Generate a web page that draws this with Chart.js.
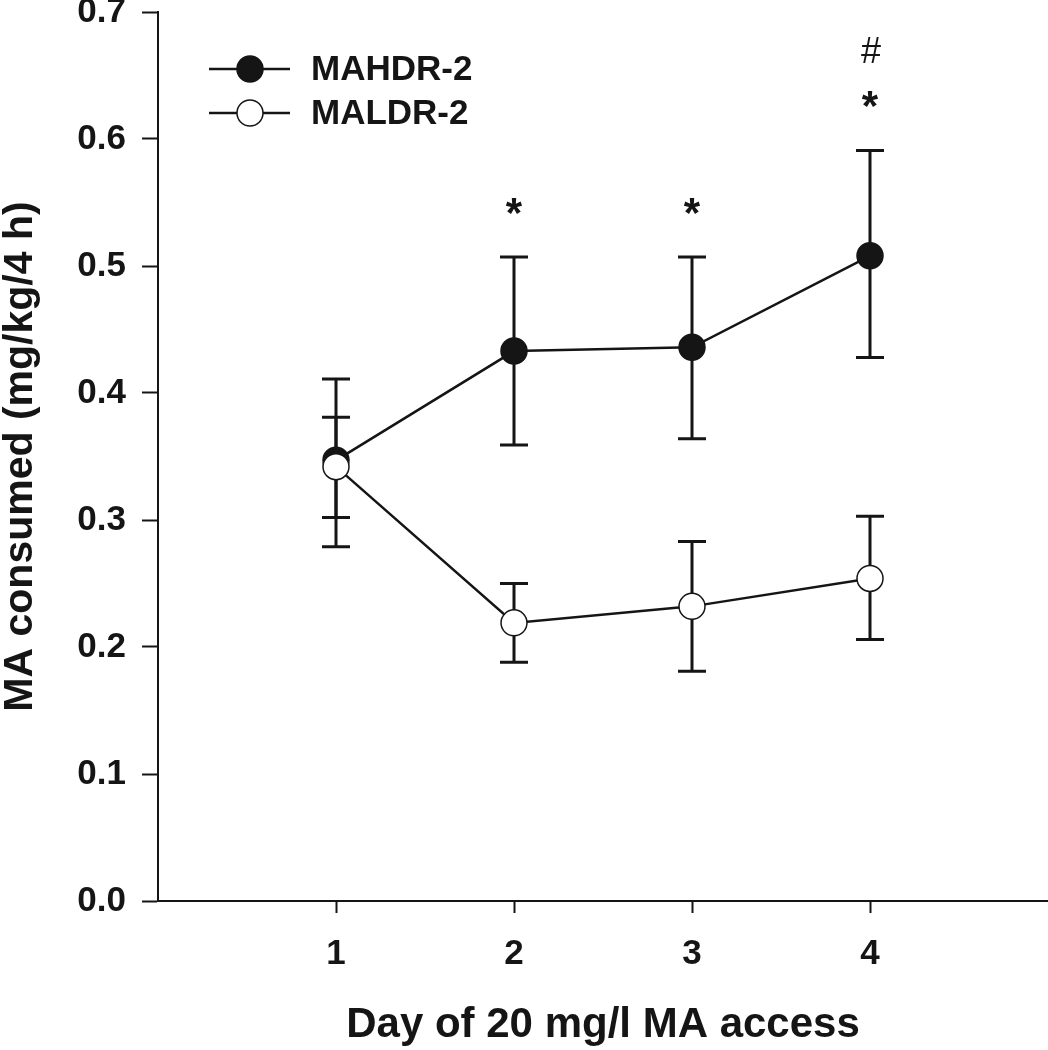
<!DOCTYPE html>
<html><head><meta charset="utf-8">
<script src="https://cdn.jsdelivr.net/npm/chart.js@4.4.0/dist/chart.umd.min.js"></script>
<style>html,body{margin:0;padding:0;background:#fff;overflow:hidden;} #wrap{width:1048px;height:1050px;} canvas{display:block;}</style>
</head><body><div id="wrap"><canvas id="c" width="1048" height="1050"></canvas></div>
<script>
// ---- data ----
const days = [1, 2, 3, 4];
const yTickValues = [0, 0.1, 0.2, 0.3, 0.4, 0.5, 0.6, 0.7];
const seriesNames = ['MAHDR-2', 'MALDR-2'];
const hdrMean  = [0.347, 0.433, 0.436, 0.508];
const hdrUpper = [0.411, 0.507, 0.507, 0.591];
const hdrLower = [0.279, 0.359, 0.364, 0.428];
const ldrMean  = [0.342, 0.219, 0.232, 0.254];
const ldrUpper = [0.381, 0.250, 0.283, 0.303];
const ldrLower = [0.302, 0.188, 0.181, 0.206];
const starMarks = ['', '*', '*', '*'];
const hashMarks = ['', '', '', '#'];

const FONT = '"Liberation Sans", Arial, Helvetica, sans-serif';
const INK = '#151515';

const errBars = [
  {upper: hdrUpper, lower: hdrLower},
  {upper: ldrUpper, lower: ldrLower}
];

const errorBarPlugin = {
  id: 'errorBars',
  beforeDatasetsDraw(chart) {
    const ctx = chart.ctx, xs = chart.scales.x, ys = chart.scales.y;
    ctx.save();
    ctx.strokeStyle = INK;
    ctx.lineWidth = 3;
    errBars.forEach(eb => {
      days.forEach((d, i) => {
        const x = xs.getPixelForValue(d);
        const yu = ys.getPixelForValue(eb.upper[i]);
        const yl = ys.getPixelForValue(eb.lower[i]);
        ctx.beginPath();
        ctx.moveTo(x, yu); ctx.lineTo(x, yl);
        ctx.moveTo(x - 14, yu); ctx.lineTo(x + 14, yu);
        ctx.moveTo(x - 14, yl); ctx.lineTo(x + 14, yl);
        ctx.stroke();
      });
    });
    ctx.restore();
  }
};

const marksPlugin = {
  id: 'marks',
  afterDatasetsDraw(chart) {
    const ctx = chart.ctx, xs = chart.scales.x, ys = chart.scales.y;
    ctx.save();
    ctx.fillStyle = INK;
    ctx.textAlign = 'center';
    ctx.textBaseline = 'alphabetic';
    days.forEach((d, i) => {
      const x = xs.getPixelForValue(d);
      const yu = ys.getPixelForValue(hdrUpper[i]);
      if (starMarks[i]) {
        ctx.font = 'bold 42px ' + FONT;
        ctx.fillText(starMarks[i], x, yu - 54 + 24);
      }
      if (hashMarks[i]) {
        ctx.font = '36px ' + FONT;
        ctx.fillText(hashMarks[i], x + 1, yu - 100 + 13);
      }
    });
    ctx.restore();
  }
};

const legendPlugin = {
  id: 'customLegend',
  afterDraw(chart) {
    const ctx = chart.ctx;
    const fills = [INK, '#ffffff'];
    ctx.save();
    seriesNames.forEach((name, k) => {
      const y = 69 + k * 44;
      ctx.strokeStyle = INK;
      ctx.lineWidth = 2.5;
      ctx.beginPath(); ctx.moveTo(209, y); ctx.lineTo(290, y); ctx.stroke();
      ctx.beginPath(); ctx.arc(250, y, 13, 0, Math.PI * 2);
      ctx.fillStyle = fills[k]; ctx.fill();
      ctx.lineWidth = 1.5; ctx.stroke();
      ctx.fillStyle = INK;
      ctx.font = 'bold 35px ' + FONT;
      ctx.textAlign = 'left';
      ctx.textBaseline = 'middle';
      ctx.fillText(name, 311, y + 1);
    });
    ctx.restore();
  }
};

const toPts = arr => days.map((d, i) => ({x: d, y: arr[i]}));

new Chart(document.getElementById('c'), {
  type: 'line',
  data: {
    datasets: [
      {
        label: seriesNames[0], data: toPts(hdrMean), order: 1,
        borderColor: INK, borderWidth: 2.5, tension: 0,
        pointRadius: 13, pointBackgroundColor: INK, pointBorderColor: INK, pointBorderWidth: 1.5
      },
      {
        label: seriesNames[1], data: toPts(ldrMean), order: 0,
        borderColor: INK, borderWidth: 2.5, tension: 0,
        pointRadius: 13, pointBackgroundColor: '#ffffff', pointBorderColor: INK, pointBorderWidth: 1.5
      }
    ]
  },
  options: {
    responsive: false,
    animation: false,
    devicePixelRatio: 1,
    layout: {autoPadding: false, padding: {top: 12, right: 0, left: 0, bottom: 0}},
    plugins: {legend: {display: false}, tooltip: {enabled: false}},
    scales: {
      x: {
        type: 'linear', min: 0, max: 5,
        afterBuildTicks: s => { s.ticks = days.map(v => ({value: v})); },
        afterFit: s => { s.height = 149; s.paddingLeft = 0; s.paddingRight = 0; },
        ticks: {
          callback: v => String(v), color: INK, padding: 20, autoSkip: false, maxRotation: 0,
          font: {family: FONT, size: 35, weight: 'bold'}
        },
        grid: {drawOnChartArea: false, drawTicks: true, tickLength: 12, tickWidth: 2, tickColor: INK},
        border: {display: true, color: INK, width: 2},
        title: {
          display: true, text: 'Day of 20 mg/l MA access', color: INK,
          font: {family: FONT, size: 42, weight: 'bold', lineHeight: 1},
          padding: {top: 0, bottom: 4}
        }
      },
      y: {
        type: 'linear', min: 0, max: 0.7,
        afterBuildTicks: s => { s.ticks = yTickValues.map(v => ({value: v})); },
        afterFit: s => { s.width = 158; s.paddingTop = 0; s.paddingBottom = 0; },
        ticks: {
          callback: v => Number(v).toFixed(1), color: INK, padding: 16,
          font: {family: FONT, size: 35, weight: 'bold', lineHeight: 0.7}
        },
        grid: {drawOnChartArea: false, drawTicks: true, tickLength: 16, tickWidth: 2, tickColor: INK},
        border: {display: true, color: INK, width: 2},
        title: {
          display: true, text: 'MA consumed (mg/kg/4 h)', color: INK,
          font: {family: FONT, size: 41, weight: 'bold', lineHeight: 1},
          padding: {top: 0, bottom: 0}
        }
      }
    }
  },
  plugins: [errorBarPlugin, marksPlugin, legendPlugin]
});
</script>
</body></html>
